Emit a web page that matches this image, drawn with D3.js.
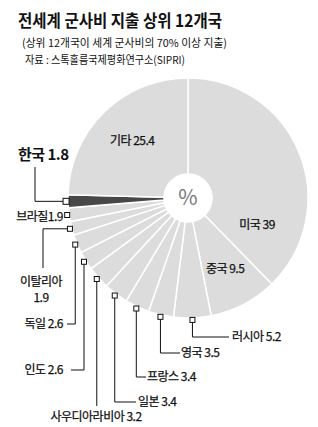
<!DOCTYPE html>
<html>
<head>
<meta charset="utf-8">
<script src="https://cdn.jsdelivr.net/npm/d3@7"></script>
<style>
  body { margin: 0; background: #fff; }
  svg text { font-family: "Noto Sans CJK KR", "Noto Sans", sans-serif; fill: #111; }
  svg text.lbl { stroke: #111; stroke-width: 0.25; }
</style>
</head>
<body>
<svg id="chart" width="318" height="427"></svg>
<script>
// data: top-12 military spenders, share of world total (%)
var countries = ["미국", "중국", "러시아", "영국", "프랑스", "일본", "사우디아라비아", "인도", "독일", "이탈리아", "브라질", "한국", "기타"];
var shares = [39, 9.5, 5.2, 3.5, 3.4, 3.4, 3.2, 2.6, 2.6, 1.9, 1.9, 1.8, 25.4];

var title = "전세계 군사비 지출 상위 12개국";
var subtitle = "(상위 12개국이 세계 군사비의 70% 이상 지출)";
var source = "자료 : 스톡홀름국제평화연구소(SIPRI)";

var svg = d3.select("#chart");

var cx = 188, cy = 198, outerR = 120, innerR = 24;

// header
svg.append("text").attr("x", 18).attr("y", 27)
    .attr("font-size", 16.5).attr("font-weight", "bold")
    .attr("textLength", 204).attr("lengthAdjust", "spacingAndGlyphs")
    .text(title);
svg.append("text").attr("x", 22).attr("y", 47)
    .attr("font-size", 11).attr("fill", "#222")
    .attr("textLength", 205).attr("lengthAdjust", "spacingAndGlyphs")
    .text(subtitle);
svg.append("text").attr("x", 25).attr("y", 64)
    .attr("font-size", 11).attr("fill", "#222")
    .attr("textLength", 160).attr("lengthAdjust", "spacingAndGlyphs")
    .text(source);

var data = countries.map(function (c, i) { return { name: c, value: shares[i] }; });

var pie = d3.pie().sort(null).value(function (d) { return d.value; });
var arcs = pie(data);

var arc = d3.arc().innerRadius(innerR).outerRadius(outerR);
var markerArc = d3.arc().innerRadius(122).outerRadius(122);
var labelArc = d3.arc().innerRadius(80).outerRadius(80);

var g = svg.append("g").attr("transform", "translate(" + cx + "," + cy + ")");

g.selectAll("path.slice")
    .data(arcs)
    .enter().append("path")
    .attr("class", "slice")
    .attr("d", arc)
    .attr("fill", function (d) { return d.data.name === "한국" ? "#474747" : "#dcdcdc"; })
    .attr("stroke", "#fff")
    .attr("stroke-width", 1.5);

g.append("text")
    .attr("text-anchor", "middle").attr("y", 7)
    .attr("font-size", 21).style("fill", "#7a7a7a")
    .text("%");

function fmt(v) { return String(v); }

// labels inside the pie
var inside = { "미국": { angle: 111, r: 74 }, "중국": null, "기타": null };
arcs.forEach(function (d) {
    if (!(d.data.name in inside)) return;
    var p;
    var o = inside[d.data.name];
    if (o) {
        var a = o.angle * Math.PI / 180;
        p = [o.r * Math.sin(a), -o.r * Math.cos(a)];
    } else {
        p = labelArc.centroid(d);
    }
    g.append("text")
        .attr("class", "lbl")
        .attr("x", p[0]).attr("y", p[1] + 4)
        .attr("text-anchor", "middle")
        .attr("font-size", 12).attr("letter-spacing", -0.5)
        .text(d.data.name + " " + fmt(d.data.value));
});

// leader lines: first leg from marker (v = down to y, h = left to x), then second leg
var leaders = {
    "러시아":   { first: "v", to: 337, end: 229, tx: 232, ty: 341, anchor: "start" },
    "영국":     { first: "v", to: 353, end: 180, tx: 181, ty: 357, anchor: "start" },
    "프랑스":   { first: "v", to: 377, end: 146, tx: 147, ty: 381, anchor: "start" },
    "일본":     { first: "v", to: 402, end: 136, tx: 138, ty: 406, anchor: "start" },
    "사우디아라비아": { first: "v", to: 406, end: null, tx: 96, ty: 421, anchor: "middle" },
    "인도":     { first: "v", to: 370, end: 71, tx: 63, ty: 374, anchor: "end" },
    "독일":     { first: "v", to: 324, end: 67, tx: 63, ty: 328, anchor: "end" },
    "이탈리아": { first: "h", to: 43, end: 268, tx: 41, ty: 286, anchor: "middle", wrap: true },
    "브라질":   { first: null, tx: 63, ty: 221, anchor: "end", tight: true },
    "한국":     { first: "h", to: 35, end: 167, tx: 18, ty: 160, anchor: "start", big: true }
};

var lines = svg.append("g");
var markers = svg.append("g");

arcs.forEach(function (d) {
    var L = leaders[d.data.name];
    if (!L) return;
    var m = markerArc.centroid(d);
    var mx = cx + m[0], my = cy + m[1];
    var pts = [[mx, my]];
    if (L.first === "v") {
        pts.push([mx, L.to]);
        if (L.end !== null) pts.push([L.end, L.to]);
    } else if (L.first === "h") {
        pts.push([L.to, my]);
        pts.push([L.to, L.end]);
    }
    if (pts.length > 1) {
        lines.append("path")
            .attr("d", d3.line()(pts))
            .attr("fill", "none").attr("stroke", "#111").attr("stroke-width", 1);
    }
    var s = L.big ? 6 : 5;
    markers.append("rect")
        .attr("x", mx - s / 2).attr("y", my - s / 2)
        .attr("width", s).attr("height", s)
        .attr("fill", "#fff").attr("stroke", "#111").attr("stroke-width", 1);

    var t = svg.append("text")
        .attr("class", L.big ? null : "lbl")
        .attr("x", L.tx).attr("y", L.ty)
        .attr("text-anchor", L.anchor)
        .attr("font-size", L.big ? 15 : 12)
        .attr("font-weight", L.big ? "bold" : null)
        .attr("letter-spacing", -0.5);
    if (L.wrap) {
        t.append("tspan").attr("x", L.tx).text(d.data.name);
        t.append("tspan").attr("x", L.tx).attr("dy", 16).text(fmt(d.data.value));
    } else {
        t.text(d.data.name + (L.tight ? "" : " ") + fmt(d.data.value));
    }
});
</script>
</body>
</html>
